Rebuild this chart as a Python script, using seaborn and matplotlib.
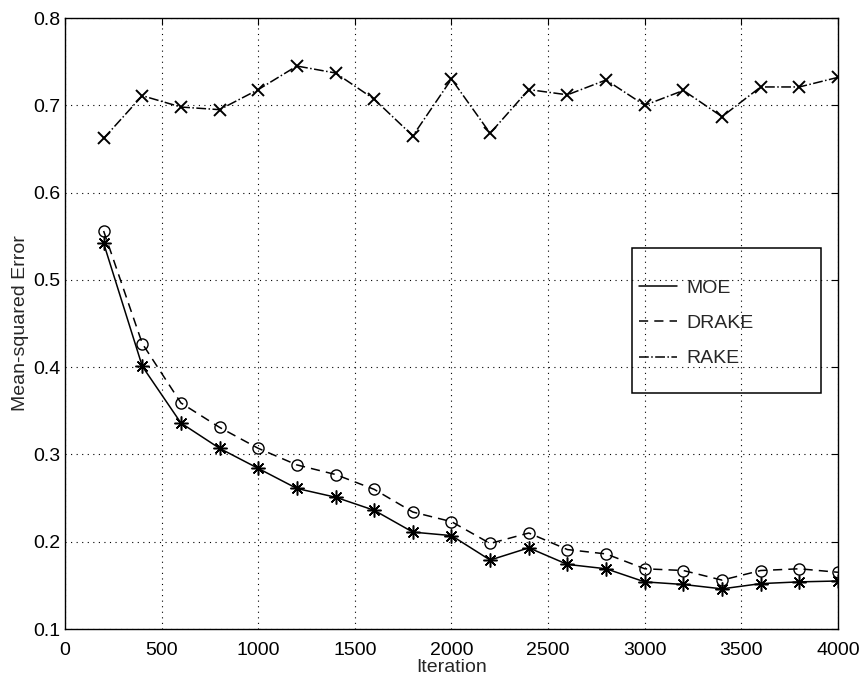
import matplotlib
matplotlib.use("Agg")
import matplotlib.pyplot as plt
from matplotlib.lines import Line2D
from matplotlib.patches import Rectangle
import seaborn as sns
import pandas as pd

iterations = [200, 400, 600, 800, 1000, 1200, 1400, 1600, 1800, 2000,
              2200, 2400, 2600, 2800, 3000, 3200, 3400, 3600, 3800, 4000]
moe = [0.542, 0.401, 0.336, 0.307, 0.284, 0.261, 0.251, 0.236, 0.211, 0.207,
       0.179, 0.193, 0.174, 0.169, 0.154, 0.151, 0.146, 0.152, 0.154, 0.155]
drake = [0.556, 0.427, 0.359, 0.331, 0.307, 0.288, 0.277, 0.260, 0.234, 0.223,
         0.198, 0.210, 0.191, 0.186, 0.169, 0.167, 0.156, 0.167, 0.169, 0.165]
rake = [0.662, 0.711, 0.698, 0.695, 0.718, 0.745, 0.737, 0.707, 0.665, 0.730,
        0.668, 0.718, 0.712, 0.729, 0.700, 0.717, 0.687, 0.721, 0.721, 0.732]
series_names = ["MOE", "DRAKE", "RAKE"]
x_ticks = [0, 500, 1000, 1500, 2000, 2500, 3000, 3500, 4000]
y_ticks = [0.1, 0.2, 0.3, 0.4, 0.5, 0.6, 0.7, 0.8]

sns.set_style("white")
plt.rcParams["font.family"] = ["Liberation Sans", "DejaVu Sans"]

FS = 14

fig = plt.figure(figsize=(8.63, 6.77), dpi=100)
ax = fig.add_axes([0.0753, 0.0709, 0.8957, 0.9025])

df = pd.DataFrame({"Iteration": iterations, "MOE": moe, "DRAKE": drake, "RAKE": rake})

styles = {
    "MOE": dict(linestyle="-", marker=(8, 2, 0), markersize=10, markerfacecolor="black",
                markeredgecolor="black", markeredgewidth=1.1),
    "DRAKE": dict(linestyle="--", marker="o", markersize=8, markerfacecolor="none",
                  markeredgecolor="black", markeredgewidth=1.0, dashes=(6, 4)),
    "RAKE": dict(linestyle="-.", marker="x", markersize=9, markerfacecolor="black",
                 markeredgecolor="black", markeredgewidth=1.4),
}

for name in series_names:
    st = dict(styles[name])
    dashes = st.pop("dashes", None)
    ls = st.pop("linestyle")
    line_ax = sns.lineplot(data=df, x="Iteration", y=name, ax=ax, color="black",
                           linewidth=1.1, legend=False, **st)
    ln = line_ax.lines[-1]
    ln.set_linestyle(ls)
    if dashes is not None:
        ln.set_dashes(dashes)

ax.set_xlim(0, 4000)
ax.set_ylim(0.1, 0.8)
ax.set_xticks(x_ticks)
ax.set_yticks(y_ticks)
ax.set_xticklabels([str(t) for t in x_ticks])
ax.set_yticklabels([f"{t:.1f}" for t in y_ticks])
ax.tick_params(axis="both", direction="in", length=5, width=0.8, top=True, right=True,
               labelsize=FS, colors="black")
ax.tick_params(axis="x", pad=9)
ax.tick_params(axis="y", pad=3)
ax.grid(True, linestyle=(0, (1, 4)), color="black", linewidth=0.8)
for sp in ax.spines.values():
    sp.set_color("black")
    sp.set_linewidth(1.0)
    sp.set_visible(True)

ax.set_xlabel("Iteration", fontsize=FS, labelpad=0)
ax.set_ylabel("Mean-squared Error", fontsize=FS, labelpad=3)

# legend box (transparent, grid shows through as in the reference)
ax.add_patch(Rectangle((0.734, 0.386), 0.244, 0.238, transform=ax.transAxes,
                       facecolor="none", edgecolor="black", linewidth=1.1, zorder=5))

handles = [
    Line2D([], [], color="black", linestyle="-", linewidth=1.1),
    Line2D([], [], color="black", linestyle="--", dashes=(6, 4), linewidth=1.1),
    Line2D([], [], color="black", linestyle="-.", linewidth=1.1),
]
leg = ax.legend(handles, series_names, loc="upper left",
                bbox_to_anchor=(0.742, 0.572), fontsize=FS, frameon=False,
                handlelength=2.0, handletextpad=0.45, labelspacing=0.9,
                borderpad=0.0, borderaxespad=0.0)

fig.savefig("out.png", dpi=100)
